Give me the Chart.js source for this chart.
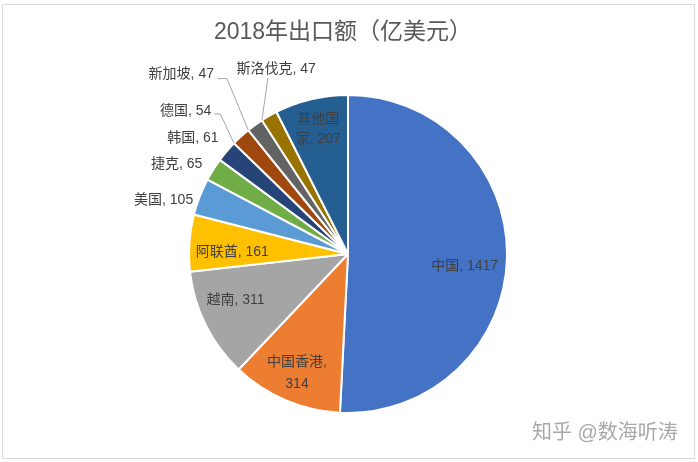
<!DOCTYPE html>
<html>
<head>
<meta charset="utf-8">
<script src="https://cdn.jsdelivr.net/npm/chart.js@4.4.1/dist/chart.umd.min.js"></script>
<style>
  * { margin: 0; padding: 0; box-sizing: border-box; }
  body { background: #fff; width: 698px; height: 462px; overflow: hidden; }
  canvas { display: block; }
</style>
</head>
<body>
<canvas id="chartCanvas" width="698" height="462"></canvas>
<script>
// data
const countries = ['中国', '中国香港', '越南', '阿联酋', '美国', '捷克', '韩国', '德国', '新加坡', '斯洛伐克', '其他国家'];
const exportValues = [1417, 314, 311, 161, 105, 65, 61, 54, 47, 47, 207];
const sliceColors = ['#4472C4', '#ED7D31', '#A5A5A5', '#FFC000', '#5B9BD5', '#70AD47',
  '#264478', '#9E480E', '#636363', '#997300', '#255E91'];
const titleText = '2018年出口额（亿美元）';
const watermark = '知乎 @数海听涛';

// label placement (style only): inside labels use f (fraction of radius),
// outside labels are offset from the arc's outer point at mid angle
const labelStyle = [
  {mode: 'in', f: 0.74, dx: -1, dy: 9, lines: ['中国, 1417']},
  {mode: 'in', f: 0.815, dx: 0, dy: 0, lines: ['中国香港,', '314'], lh: 22},
  {mode: 'in', f: 0.77, dx: -3, dy: -8},
  {mode: 'in', f: 0.73, dx: 0, dy: 6},
  {mode: 'out', dx: -6.5, dy: 3.5, align: 'right'},
  {mode: 'out', dx: -11, dy: -5, align: 'right'},
  {mode: 'out', dx: -8, dy: -13, align: 'right'},
  {mode: 'out', dx: -29.6, dy: -25, align: 'right', leader: 'side', l1: 3, l2: 9, ly: 2},
  {mode: 'out', dx: -41, dy: -51, align: 'right', leader: 'side', l1: 4, l2: 13, ly: 4},
  {mode: 'out', dx: 7, dy: -47, align: 'center', leader: 'down'},
  {mode: 'in', f: 0.81, dx: 0, dy: 0, lines: ['其他国', '家, 207'], lh: 20}
];

const FONT = "'Liberation Sans', 'Noto Sans CJK SC', sans-serif";

const labelPlugin = {
  id: 'sliceLabels',
  afterDraw(chart) {
    const ctx = chart.ctx;
    const meta = chart.getDatasetMeta(0);
    ctx.save();

    // outer frame
    ctx.strokeStyle = '#D9D9D9';
    ctx.lineWidth = 1;
    ctx.strokeRect(2.5, 4.5, 692, 454);

    // title
    ctx.fillStyle = '#595959';
    ctx.font = '23px ' + FONT;
    ctx.textAlign = 'center';
    ctx.textBaseline = 'middle';
    ctx.fillText(titleText, 343, 33);

    ctx.font = '14px ' + FONT;
    meta.data.forEach((arc, i) => {
      const st = labelStyle[i];
      const {x: cx, y: cy, startAngle, endAngle, outerRadius} = arc.getProps(['x', 'y', 'startAngle', 'endAngle', 'outerRadius'], true);
      const mid = (startAngle + endAngle) / 2;
      const lines = st.lines || [countries[i] + ', ' + exportValues[i]];
      ctx.fillStyle = '#404040';
      if (st.mode === 'in') {
        const px = cx + Math.cos(mid) * outerRadius * st.f + st.dx;
        const py = cy + Math.sin(mid) * outerRadius * st.f + st.dy;
        const lh = st.lh || 18;
        ctx.textAlign = 'center';
        lines.forEach((t, k) => {
          ctx.fillText(t, px, py + (k - (lines.length - 1) / 2) * lh);
        });
      } else {
        const ex = cx + Math.cos(mid) * outerRadius;
        const ey = cy + Math.sin(mid) * outerRadius;
        const px = ex + st.dx;
        const py = ey + st.dy;
        ctx.textAlign = st.align;
        ctx.fillText(lines[0], px, py);
        const w = ctx.measureText(lines[0]).width;
        if (st.leader) {
          const tx = cx + Math.cos(startAngle) * outerRadius;
          const ty = cy + Math.sin(startAngle) * outerRadius;
          ctx.strokeStyle = '#A6A6A6';
          ctx.lineWidth = 1;
          ctx.beginPath();
          if (st.leader === 'side') {
            ctx.moveTo(px + st.l1, py + st.ly + 0.5);
            ctx.lineTo(px + st.l2, py + st.ly + 0.5);
          } else {
            const left = px - w / 2;
            ctx.moveTo(left + 31.5, py + 9);
          }
          ctx.lineTo(tx, ty);
          ctx.stroke();
        }
      }
    });

    // watermark
    ctx.font = '20px ' + FONT;
    ctx.textAlign = 'left';
    ctx.fillStyle = '#A8A8A8';
    ctx.fillText(watermark, 532, 433);
    ctx.restore();
  }
};

new Chart(document.getElementById('chartCanvas'), {
  type: 'pie',
  data: {
    labels: countries,
    datasets: [{
      data: exportValues,
      backgroundColor: sliceColors,
      borderColor: '#ffffff',
      borderWidth: 2
    }]
  },
  options: {
    responsive: false,
    animation: false,
    layout: {padding: {left: 188, right: 190, top: 94, bottom: 48}},
    plugins: {
      legend: {display: false},
      tooltip: {enabled: false},
      title: {display: false}
    }
  },
  plugins: [labelPlugin]
});
</script>
</body>
</html>
